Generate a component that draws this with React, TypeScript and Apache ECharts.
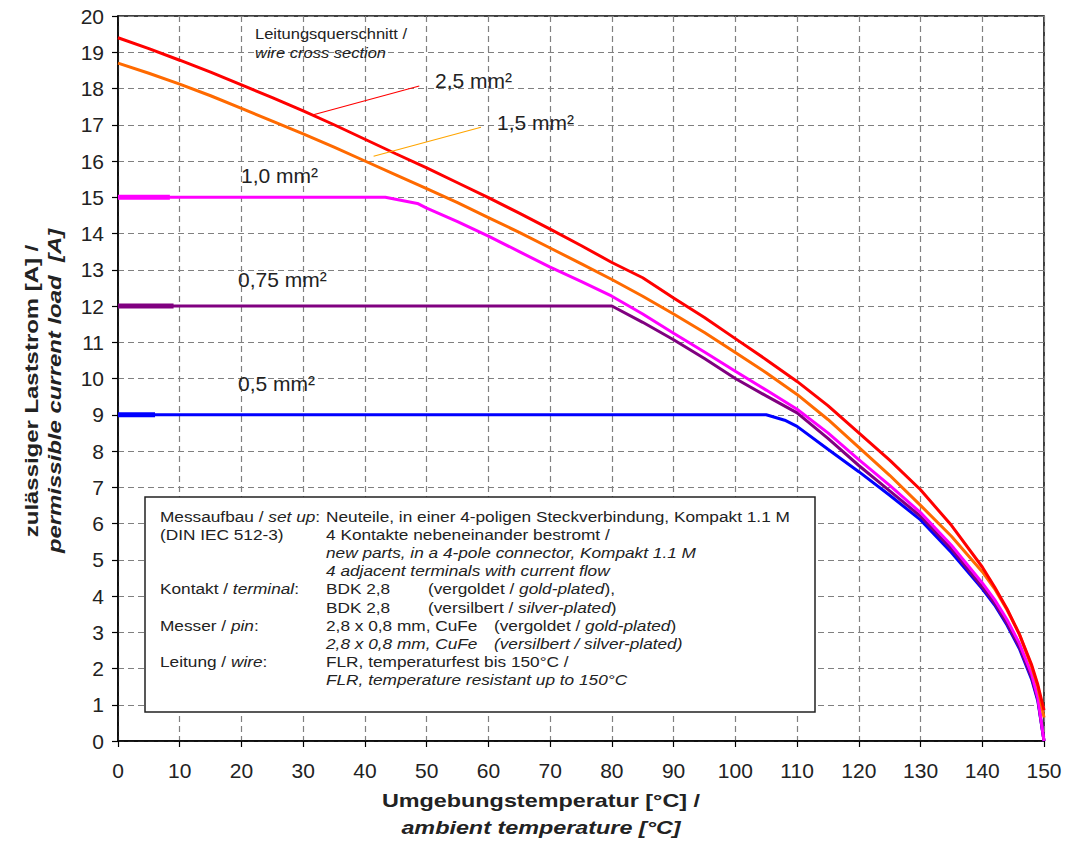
import React, { useEffect, useRef } from "react";
import * as echarts from "echarts";

const FONT = "'Liberation Sans', Arial, Helvetica, sans-serif";

// temperature ticks / ranges
const xTicks = { min: 0, max: 150, step: 10 };
const yTicks = { min: 0, max: 20, step: 1 };

// 2,5 mm²
const wire25X = [0, 5, 10, 15, 20, 25, 30, 35, 40, 45, 50, 55, 60, 65, 70, 75, 80, 85, 90, 95, 100, 105, 110, 115, 120, 125, 130, 135, 140, 142, 144, 146, 148, 149, 150];
const wire25Y = [19.4, 19.1, 18.78, 18.45, 18.1, 17.75, 17.38, 17.0, 16.6, 16.2, 15.81, 15.4, 14.99, 14.56, 14.12, 13.67, 13.2, 12.78, 12.22, 11.68, 11.1, 10.52, 9.92, 9.25, 8.5, 7.75, 6.93, 5.95, 4.8, 4.25, 3.65, 2.95, 2.1, 1.55, 0.85];
// 1,5 mm²
const wire15X = [0, 5, 10, 15, 20, 25, 30, 35, 40, 45, 50, 55, 60, 65, 70, 75, 80, 85, 90, 95, 100, 105, 110, 115, 120, 125, 130, 135, 140, 142, 144, 146, 148, 149, 150];
const wire15Y = [18.7, 18.42, 18.12, 17.8, 17.45, 17.1, 16.75, 16.38, 16.0, 15.62, 15.24, 14.85, 14.44, 14.03, 13.6, 13.17, 12.73, 12.27, 11.78, 11.27, 10.72, 10.16, 9.56, 8.87, 8.1, 7.33, 6.5, 5.65, 4.67, 4.2, 3.62, 2.95, 2.05, 1.5, 0.65];
// 1,0 mm²
const wire10X = [0, 43.3, 48.5, 50, 55, 60, 65, 70, 75, 80, 85, 90, 95, 100, 105, 110, 115, 120, 125, 130, 135, 140, 142, 144, 146, 148, 149, 150];
const wire10Y = [15, 15, 14.83, 14.7, 14.33, 13.93, 13.5, 13.07, 12.68, 12.27, 11.78, 11.25, 10.73, 10.2, 9.68, 9.15, 8.5, 7.76, 7.05, 6.3, 5.4, 4.36, 3.9, 3.35, 2.7, 1.85, 1.2, 0];
// 0,75 mm²
const wire075X = [0, 80, 85, 90, 95, 100, 105, 110, 115, 120, 125, 130, 135, 140, 142, 144, 146, 148, 149, 150];
const wire075Y = [12, 12, 11.55, 11.07, 10.55, 10.0, 9.52, 9.05, 8.35, 7.6, 6.9, 6.2, 5.3, 4.25, 3.8, 3.25, 2.6, 1.75, 1.15, 0];
// 0,5 mm²
const wire05X = [0, 105, 108, 110, 115, 120, 125, 130, 135, 140, 142, 144, 146, 148, 149, 150];
const wire05Y = [9, 9, 8.85, 8.68, 8.05, 7.43, 6.78, 6.1, 5.2, 4.2, 3.75, 3.2, 2.55, 1.7, 1.1, 0];

// short thicker starting segments (end temperature)
const stub10End = 8.4;
const stub075End = 9;
const stub05End = 6;

// leader lines for labels [x1, y1, x2, y2]
const leader25 = [31.5, 17.27, 48.8, 18.07];
const leader15 = [41.4, 16.13, 58.8, 16.93];

const colors = {
  w25: "#ff0000",
  w15: "#ff6a00",
  w10: "#ff00ff",
  w075: "#800080",
  w05: "#0000ff",
  lead15: "#ffa500",
};

const pairs = (xs: number[], ys: number[]) => xs.map((x, i) => [x, ys[i]]);

export default function App() {
  const ref = useRef<HTMLDivElement>(null);

  useEffect(() => {
    if (!ref.current) return;
    const chart = echarts.init(ref.current, undefined, { renderer: "svg" });

    const lineSeries = (name: string, data: number[][], color: string, extra: any = {}) => ({
      type: "line",
      name,
      data,
      symbol: "none",
      smooth: false,
      lineStyle: { color, width: 3 },
      z: 3,
      ...extra,
    });

    const stub = (name: string, y: number, end: number, color: string) => ({
      type: "line",
      name,
      data: [[0, y], [end, y]],
      symbol: "none",
      lineStyle: { color, width: 5 },
      z: 4,
    });

    const leader = (l: number[], color: string) => ({
      silent: true,
      symbol: ["none", "none"],
      label: { show: false },
      lineStyle: { color, width: 1.2, type: "solid" },
      data: [[{ coord: [l[0], l[1]] }, { coord: [l[2], l[3]] }]],
    });

    const txt = (x: number, y: number, text: string, o: any = {}, extra: any = {}) => ({
      type: "text",
      x,
      y,
      z: 20,
      ...extra,
      style: {
        text,
        fontFamily: FONT,
        fontSize: 15,
        fill: "#222",
        align: "left",
        verticalAlign: "middle",
        rich: {
          i: { fontStyle: "italic", fontFamily: FONT, fontSize: o.fontSize || 15, fill: "#222" },
        },
        ...o,
      },
    });

    const boxCol1 = 160;
    const boxCol2 = 326;
    const boxCol3a = 428;
    const boxCol3b = 494;
    const rowY = (i: number) => 516 + i * 18.2;
    const bs = { scaleX: 1.15 };

    const option: any = {
      animation: false,
      backgroundColor: "#fff",
      grid: {
        left: 118,
        right: 23,
        top: 16,
        bottom: 102,
        show: true,
        borderColor: "#000",
        borderWidth: 1.5,
        backgroundColor: "transparent",
      },
      xAxis: {
        type: "value",
        min: xTicks.min,
        max: xTicks.max,
        interval: xTicks.step,
        axisLine: { show: true, onZero: false, lineStyle: { color: "#000", width: 1.5 } },
        axisTick: { show: true, inside: false, length: 6, lineStyle: { color: "#000", width: 1.2 } },
        axisLabel: { fontSize: 21, color: "#222", fontFamily: FONT, margin: 19 },
        splitLine: { show: true, lineStyle: { color: "#808080", width: 1.2, type: [6, 4] } },
      },
      yAxis: {
        type: "value",
        min: yTicks.min,
        max: yTicks.max,
        interval: yTicks.step,
        axisLine: { show: true, onZero: false, lineStyle: { color: "#000", width: 1.5 } },
        axisTick: { show: true, inside: false, length: 6, lineStyle: { color: "#000", width: 1.2 } },
        axisLabel: { fontSize: 21, color: "#222", fontFamily: FONT, margin: 14 },
        splitLine: { show: true, lineStyle: { color: "#808080", width: 1.2, type: [6, 4] } },
      },
      series: [
        lineSeries("0,5 mm²", pairs(wire05X, wire05Y), colors.w05),
        lineSeries("0,75 mm²", pairs(wire075X, wire075Y), colors.w075),
        lineSeries("1,0 mm²", pairs(wire10X, wire10Y), colors.w10),
        lineSeries("1,5 mm²", pairs(wire15X, wire15Y), colors.w15, {
          markLine: leader(leader15, colors.lead15),
        }),
        lineSeries("2,5 mm²", pairs(wire25X, wire25Y), colors.w25, {
          markLine: leader(leader25, colors.w25),
        }),
        stub("s10", wire10Y[0], stub10End, colors.w10),
        stub("s075", wire075Y[0], stub075End, colors.w075),
        stub("s05", wire05Y[0], stub05End, colors.w05),
      ],
      graphic: [
        // annotations
        txt(255, 34, "Leitungsquerschnitt /", {}, { scaleX: 1.1 }),
        txt(255, 53, "wire cross section", { fontStyle: "italic" }, { scaleX: 1.1 }),
        txt(435, 80, "2,5 mm²", { fontSize: 21 }),
        txt(497, 122, "1,5 mm²", { fontSize: 21 }),
        txt(241, 175, "1,0 mm²", { fontSize: 21 }),
        txt(238, 279, "0,75 mm²", { fontSize: 21 }),
        txt(238, 383, "0,5 mm²", { fontSize: 21 }),
        // axis titles
        txt(541, 801, "Umgebungstemperatur [°C] /", { fontSize: 19, fontWeight: "bold", align: "center" }, { scaleX: 1.23 }),
        txt(541, 828, "ambient temperature [°C]", { fontSize: 19, fontWeight: "bold", fontStyle: "italic", align: "center" }, { scaleX: 1.23 }),
        txt(32, 391, "zulässiger Laststrom [A] /", { fontSize: 18, fontWeight: "bold", align: "center" }, { rotation: Math.PI / 2, scaleX: 1.33 }),
        txt(55, 391, "permissible current load  [A]", { fontSize: 18, fontWeight: "bold", fontStyle: "italic", align: "center" }, { rotation: Math.PI / 2, scaleX: 1.33 }),
        // info box
        {
          type: "rect",
          z: 15,
          shape: { x: 145, y: 497, width: 670, height: 215 },
          style: { fill: "#fff", stroke: "#222", lineWidth: 1.5 },
        },
        txt(boxCol1, rowY(0), "Messaufbau / {i|set up}:", {}, bs),
        txt(boxCol2, rowY(0), "Neuteile, in einer 4-poligen Steckverbindung, Kompakt 1.1 M", {}, bs),
        txt(boxCol1, rowY(1), "(DIN IEC 512-3)", {}, bs),
        txt(boxCol2, rowY(1), "4 Kontakte nebeneinander bestromt /", {}, bs),
        txt(boxCol2, rowY(2), "new parts, in a 4-pole connector, Kompakt 1.1 M", { fontStyle: "italic" }, bs),
        txt(boxCol2, rowY(3), "4 adjacent terminals with current flow", { fontStyle: "italic" }, bs),
        txt(boxCol1, rowY(4), "Kontakt / {i|terminal}:", {}, bs),
        txt(boxCol2, rowY(4), "BDK 2,8", {}, bs),
        txt(boxCol3a, rowY(4), "(vergoldet / {i|gold-plated}),", {}, bs),
        txt(boxCol2, rowY(5), "BDK 2,8", {}, bs),
        txt(boxCol3a, rowY(5), "(versilbert / {i|silver-plated})", {}, bs),
        txt(boxCol1, rowY(6), "Messer / {i|pin}:", {}, bs),
        txt(boxCol2, rowY(6), "2,8 x 0,8 mm, CuFe", {}, bs),
        txt(boxCol3b, rowY(6), "(vergoldet / {i|gold-plated})", {}, bs),
        txt(boxCol2, rowY(7), "2,8 x 0,8 mm, CuFe", { fontStyle: "italic" }, bs),
        txt(boxCol3b, rowY(7), "(versilbert / silver-plated)", { fontStyle: "italic" }, bs),
        txt(boxCol1, rowY(8), "Leitung / {i|wire}:", {}, bs),
        txt(boxCol2, rowY(8), "FLR, temperaturfest bis 150°C /", {}, bs),
        txt(boxCol2, rowY(9), "FLR, temperature resistant up to 150°C", { fontStyle: "italic" }, bs),
      ],
    };

    chart.setOption(option);
    return () => chart.dispose();
  }, []);

  return (
    <div
      ref={ref}
      style={{ position: "fixed", left: 0, top: 0, width: 1067, height: 843, background: "#fff" }}
    />
  );
}
